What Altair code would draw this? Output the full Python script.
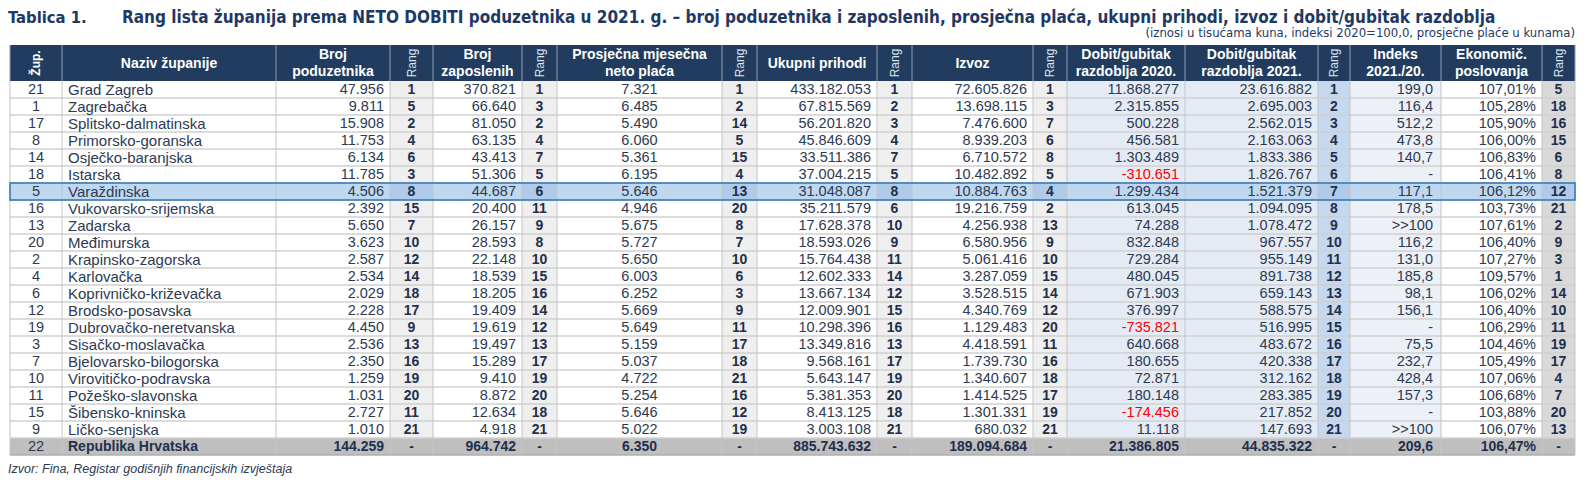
import altair as alt
import pandas as pd

# ---------------- data ----------------
zup = [21, 1, 17, 8, 14, 18, 5, 16, 13, 20, 2, 4, 6, 12, 19, 3, 7, 10, 11, 15, 9, 22]
zupanije = ["Grad Zagreb", "Zagrebačka", "Splitsko-dalmatinska", "Primorsko-goranska",
            "Osječko-baranjska", "Istarska", "Varaždinska", "Vukovarsko-srijemska", "Zadarska",
            "Međimurska", "Krapinsko-zagorska", "Karlovačka", "Koprivničko-križevačka",
            "Brodsko-posavska", "Dubrovačko-neretvanska", "Sisačko-moslavačka",
            "Bjelovarsko-bilogorska", "Virovitičko-podravska", "Požeško-slavonska",
            "Šibensko-kninska", "Ličko-senjska", "Republika Hrvatska"]
broj_poduzetnika = [47956, 9811, 15908, 11753, 6134, 11785, 4506, 2392, 5650, 3623, 2587, 2534,
                    2029, 2228, 4450, 2536, 2350, 1259, 1031, 2727, 1010, 144259]
rang_poduzetnika = [1, 5, 2, 4, 6, 3, 8, 15, 7, 10, 12, 14, 18, 17, 9, 13, 16, 19, 20, 11, 21, None]
broj_zaposlenih = [370821, 66640, 81050, 63135, 43413, 51306, 44687, 20400, 26157, 28593, 22148,
                   18539, 18205, 19409, 19619, 19497, 15289, 9410, 8872, 12634, 4918, 964742]
rang_zaposlenih = [1, 3, 2, 4, 7, 5, 6, 11, 9, 8, 10, 15, 16, 14, 12, 13, 17, 19, 20, 18, 21, None]
placa = [7321, 6485, 5490, 6060, 5361, 6195, 5646, 4946, 5675, 5727, 5650, 6003, 6252, 5669, 5649,
         5159, 5037, 4722, 5254, 5646, 5022, 6350]
rang_placa = [1, 2, 14, 5, 15, 4, 13, 20, 8, 7, 10, 6, 3, 9, 11, 17, 18, 21, 16, 12, 19, None]
prihodi = [433182053, 67815569, 56201820, 45846609, 33511386, 37004215, 31048087, 35211579,
           17628378, 18593026, 15764438, 12602333, 13667134, 12009901, 10298396, 13349816,
           9568161, 5643147, 5381353, 8413125, 3003108, 885743632]
rang_prihodi = [1, 2, 3, 4, 7, 5, 8, 6, 10, 9, 11, 14, 12, 15, 16, 13, 17, 19, 20, 18, 21, None]
izvoz = [72605826, 13698115, 7476600, 8939203, 6710572, 10482892, 10884763, 19216759, 4256938,
         6580956, 5061416, 3287059, 3528515, 4340769, 1129483, 4418591, 1739730, 1340607,
         1414525, 1301331, 680032, 189094684]
rang_izvoz = [1, 3, 7, 6, 8, 5, 4, 2, 13, 9, 10, 15, 14, 12, 20, 11, 16, 18, 17, 19, 21, None]
dobit_2020 = [11868277, 2315855, 500228, 456581, 1303489, -310651, 1299434, 613045, 74288,
              832848, 729284, 480045, 671903, 376997, -735821, 640668, 180655, 72871, 180148,
              -174456, 11118, 21386805]
dobit_2021 = [23616882, 2695003, 2562015, 2163063, 1833386, 1826767, 1521379, 1094095, 1078472,
              967557, 955149, 891738, 659143, 588575, 516995, 483672, 420338, 312162, 283385,
              217852, 147693, 44835322]
rang_dobit = [1, 2, 3, 4, 5, 6, 7, 8, 9, 10, 11, 12, 13, 14, 15, 16, 17, 18, 19, 20, 21, None]
indeks = ["199,0", "116,4", "512,2", "473,8", "140,7", "-", "117,1", "178,5", ">>100", "116,2",
          "131,0", "185,8", "98,1", "156,1", "-", "75,5", "232,7", "428,4", "157,3", "-",
          ">>100", "209,6"]
ekonomicnost = [107.01, 105.28, 105.90, 106.00, 106.83, 106.41, 106.12, 103.73, 107.61, 106.40,
                107.27, 109.57, 106.02, 106.40, 106.29, 104.46, 105.49, 107.06, 106.68, 103.88,
                106.07, 106.47]
rang_ekonomicnost = [5, 18, 16, 15, 6, 8, 12, 21, 2, 9, 3, 1, 14, 10, 11, 19, 17, 4, 7, 20, 13, None]

naslov_broj = "Tablica 1."
naslov = ("Rang lista županija prema NETO DOBITI poduzetnika u 2021. g. – broj poduzetnika i "
          "zaposlenih, prosječna plaća, ukupni prihodi, izvoz i dobit/gubitak razdoblja")
podnaslov = "(iznosi u tisućama kuna, indeksi 2020=100,0, prosječne plaće u kunama)"
izvor = "Izvor: Fina, Registar godišnjih financijskih izvještaja"

headers = ["Žup.", "Naziv županije", "Broj\npoduzetnika", "Rang", "Broj\nzaposlenih", "Rang",
           "Prosječna mjesečna\nneto plaća", "Rang", "Ukupni prihodi", "Rang", "Izvoz", "Rang",
           "Dobit/gubitak\nrazdoblja 2020.", "Dobit/gubitak\nrazdoblja 2021.", "Rang",
           "Indeks\n2021./20.", "Ekonomič.\nposlovanja", "Rang"]

HIGHLIGHT_ROW = 6
TOTAL_ROW = 21

# ---------------- formatting ----------------
def f_int(v):
    return f"{v:,}".replace(",", ".")

def f_rang(v):
    return "-" if v is None else str(v)

def f_pct(v):
    return f"{v:.2f}".replace(".", ",") + "%"

columns_values = [
    [str(v) for v in zup],
    zupanije,
    [f_int(v) for v in broj_poduzetnika],
    [f_rang(v) for v in rang_poduzetnika],
    [f_int(v) for v in broj_zaposlenih],
    [f_rang(v) for v in rang_zaposlenih],
    [f_int(v) for v in placa],
    [f_rang(v) for v in rang_placa],
    [f_int(v) for v in prihodi],
    [f_rang(v) for v in rang_prihodi],
    [f_int(v) for v in izvoz],
    [f_rang(v) for v in rang_izvoz],
    [f_int(v) for v in dobit_2020],
    [f_int(v) for v in dobit_2021],
    [f_rang(v) for v in rang_dobit],
    indeks,
    [f_pct(v) for v in ekonomicnost],
    [f_rang(v) for v in rang_ekonomicnost],
]
negatives = [[False] * 22 for _ in columns_values]
for i, v in enumerate(dobit_2020):
    negatives[12][i] = v < 0

# ---------------- layout (page pixels) ----------------
edges = [10, 62, 276, 390, 433, 522, 557, 722, 757, 877, 912, 1033, 1067, 1185, 1318, 1350,
         1441, 1542, 1575]
aligns = ["center", "left", "right", "center", "right", "center", "center", "center", "right",
          "center", "right", "center", "right", "right", "center", "right", "right", "center"]
styles = ["plain", "plain", "plain", "rang", "plain", "rang", "plain", "rang", "plain", "rang",
          "plain", "rang", "dobit", "dobit", "rangblue", "indeks", "plain", "ranglast"]
bg = {"plain": "#FFFFFF", "rang": "#EFEFEF", "dobit": "#E5EBF4", "rangblue": "#C5D8EF",
      "indeks": "#ECF0F7", "ranglast": "#D9D9D9"}
HEAD_TOP, HEAD_BOT, ROW_H = 45, 81, 17
HEAD_LH = 17
NAVY = "#213C5E"
TXT = "#2D3A52"
TXT_B = "#1F2F4D"
RED = "#FF0000"

rects, texts, hrules, vrules = [], [], [], []
for i in range(22):
    y0 = HEAD_BOT + ROW_H * i
    y1 = y0 + ROW_H
    for c in range(len(edges) - 1):
        x0, x1 = edges[c], edges[c + 1]
        st = styles[c]
        fill = bg[st]
        if i == HIGHLIGHT_ROW:
            fill = "#AFCBE9" if st.startswith("rang") else "#BFD7EF"
        if i == TOTAL_ROW:
            fill = "#BFBFBF"
        rects.append(dict(x0=x0, x1=x1, y0=y0, y1=y1, fill=fill))
        al = aligns[c]
        pad_r = 8 if st == "indeks" else 6
        tx = x0 + 6 if al == "left" else (x1 - pad_r if al == "right" else (x0 + x1) / 2)
        bold = st.startswith("rang") or (i == TOTAL_ROW and c > 0)
        col = RED if negatives[c][i] else (TXT_B if bold else TXT)
        kind = "name" if (c == 1 and not bold) else ("bold" if bold else "normal")
        texts.append(dict(x=tx, y=(y0 + y1) / 2 + 0.5, label=columns_values[c][i], color=col,
                          grp=f"{al}|{kind}"))
    if i > 0:
        hrules.append(dict(x0=edges[0], x1=edges[-1], y0=y0, y1=y0, color="#D0D0D0"))

for e in edges:
    vrules.append(dict(x0=e, x1=e, y0=HEAD_BOT, y1=HEAD_BOT + 22 * ROW_H, color="#C4C4C4"))
    vrules.append(dict(x0=e, x1=e, y0=HEAD_TOP, y1=HEAD_BOT, color="#8C9BB0"))
hrules.append(dict(x0=edges[0], x1=edges[-1], y0=HEAD_BOT + 22 * ROW_H,
                   y1=HEAD_BOT + 22 * ROW_H, color="#AFAFAF"))

head_cells = [dict(x0=edges[0], x1=edges[-1], y0=HEAD_TOP, y1=HEAD_BOT, fill=NAVY)]
head_texts, head_rot = [], []
head_mid = (HEAD_TOP + HEAD_BOT) / 2
for c, h in enumerate(headers):
    cx = (edges[c] + edges[c + 1]) / 2
    if h in ("Rang", "Žup."):
        head_rot.append(dict(x=cx, y=head_mid, label=h,
                             grp="bold" if h == "Žup." else "normal"))
    else:
        n = h.count("\n") + 1
        head_texts.append(dict(x=cx, y=head_mid + 0.5 - (n - 1) * HEAD_LH / 2, label=h))

hl_y0 = HEAD_BOT + ROW_H * HIGHLIGHT_ROW
highlight = [dict(x0=edges[0], x1=edges[-1], y0=hl_y0, y1=hl_y0 + ROW_H)]

titles_num = [dict(x=8, y=22.5, label=naslov_broj)]
titles_main = [dict(x=122, y=22.5, label=naslov)]

# ---------------- chart ----------------
W, H = 1575, 472
xs = alt.Scale(domain=[8, 8 + W], nice=False, zero=False)
ys = alt.Scale(domain=[8 + H, 8], nice=False, zero=False)

def X(f="x0"):
    return alt.X(f"{f}:Q", scale=xs, axis=None)

def Y(f="y0"):
    return alt.Y(f"{f}:Q", scale=ys, axis=None)

NARROW = "'Liberation Sans Narrow', 'Arial Narrow', 'DejaVu Sans Condensed', 'Liberation Sans', sans-serif"
SANS = "'Liberation Sans', Arial, sans-serif"
SIZES = {"normal": 14.5, "name": 15, "bold": 14}

layers = []
layers.append(alt.Chart(pd.DataFrame(rects)).mark_rect().encode(
    x=X("x0"), x2="x1", y=Y("y0"), y2="y1", color=alt.Color("fill:N", scale=None)))
layers.append(alt.Chart(pd.DataFrame(head_cells)).mark_rect().encode(
    x=X("x0"), x2="x1", y=Y("y0"), y2="y1", color=alt.Color("fill:N", scale=None)))
layers.append(alt.Chart(pd.DataFrame(hrules)).mark_rule(strokeWidth=1.5).encode(
    x=X("x0"), x2="x1", y=Y("y0"), y2="y1", color=alt.Color("color:N", scale=None)))
layers.append(alt.Chart(pd.DataFrame(vrules)).mark_rule(strokeWidth=1).encode(
    x=X("x0"), x2="x1", y=Y("y0"), y2="y1", color=alt.Color("color:N", scale=None)))
layers.append(alt.Chart(pd.DataFrame(highlight)).mark_rect(
    fill=None, fillOpacity=0, stroke="#2E75B6", strokeWidth=1.5).encode(
    x=X("x0"), x2="x1", y=Y("y0"), y2="y1"))

tdf = pd.DataFrame(texts)
for grp in sorted(tdf["grp"].unique()):
    al, kind = grp.split("|")
    sub = tdf[tdf["grp"] == grp]
    layers.append(alt.Chart(sub).mark_text(
        align=al, baseline="middle", font=SANS, fontSize=SIZES[kind],
        fontWeight="bold" if kind == "bold" else "normal").encode(
        x=X("x"), y=Y("y"), text="label:N", color=alt.Color("color:N", scale=None)))

layers.append(alt.Chart(pd.DataFrame(head_texts)).mark_text(
    align="center", baseline="middle", font=SANS, fontSize=14, fontWeight="bold",
    color="#FFFFFF", lineBreak="\n", lineHeight=HEAD_LH).encode(
    x=X("x"), y=Y("y"), text="label:N"))
hr = pd.DataFrame(head_rot)
layers.append(alt.Chart(hr[hr["grp"] == "normal"]).mark_text(
    align="center", baseline="middle", font=SANS, fontSize=12, angle=270,
    color="#DDE4EE").encode(x=X("x"), y=Y("y"), text="label:N"))
layers.append(alt.Chart(hr[hr["grp"] == "bold"]).mark_text(
    align="center", baseline="middle", font=SANS, fontSize=12, angle=270, fontWeight="bold",
    color="#FFFFFF").encode(x=X("x"), y=Y("y"), text="label:N"))

layers.append(alt.Chart(pd.DataFrame(titles_num)).mark_text(
    align="left", baseline="alphabetic", font=NARROW, fontSize=16.5, fontWeight="bold",
    color="#1F3864").encode(x=X("x"), y=Y("y"), text="label:N"))
layers.append(alt.Chart(pd.DataFrame(titles_main)).mark_text(
    align="left", baseline="alphabetic", font=NARROW, fontSize=17, fontWeight="bold",
    color="#1F3864").encode(x=X("x"), y=Y("y"), text="label:N"))
layers.append(alt.Chart(pd.DataFrame([dict(x=1575, y=33, label=podnaslov)])).mark_text(
    align="right", baseline="middle", font=NARROW, fontSize=13, color="#1F3864").encode(
    x=X("x"), y=Y("y"), text="label:N"))
layers.append(alt.Chart(pd.DataFrame([dict(x=8, y=469, label=izvor)])).mark_text(
    align="left", baseline="middle", font=SANS, fontSize=12.5, fontStyle="italic",
    color="#2D3A52").encode(x=X("x"), y=Y("y"), text="label:N"))

chart = alt.layer(*layers).properties(
    width=W, height=H, padding=0, autosize=alt.AutoSizeParams(type="none"),
    background="#FFFFFF",
).configure_view(stroke=None)

chart.save("out.html", embed_options={"renderer": "svg", "actions": False})
